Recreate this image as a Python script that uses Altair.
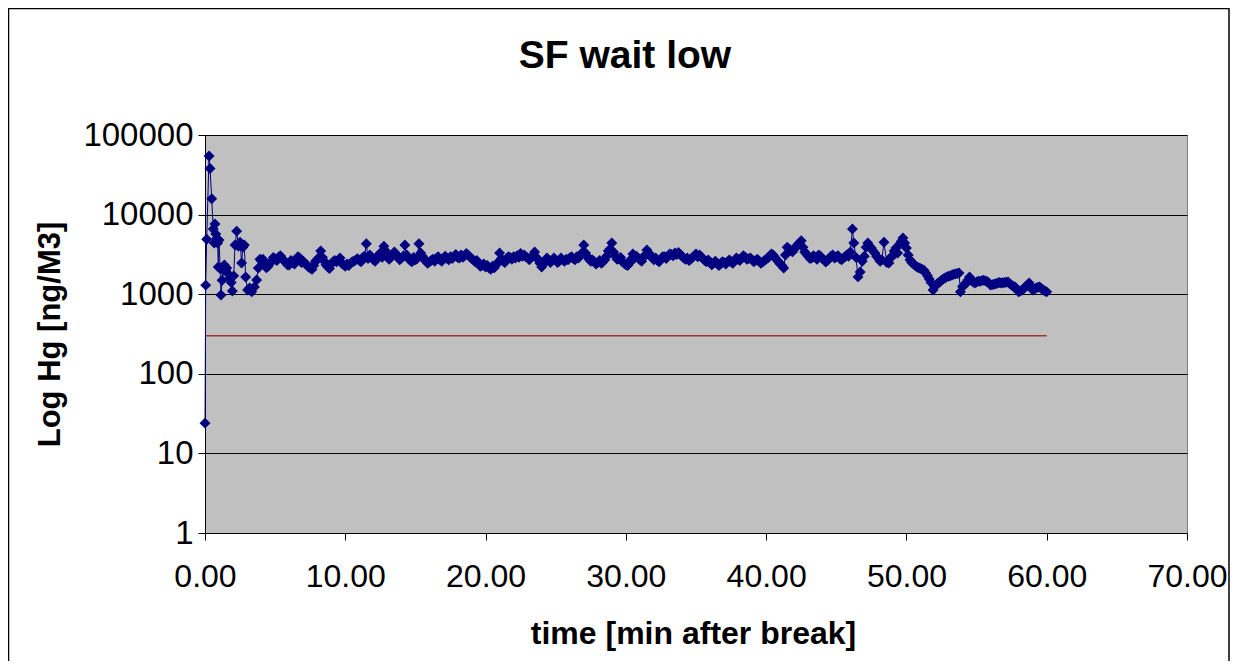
import altair as alt
import pandas as pd

# ---- data ----
time_min = [
    0.00, 0.05, 0.12, 0.29, 0.36, 0.48, 0.59, 0.66, 0.71, 0.77, 0.83, 0.90, 0.95, 1.00,
    1.08, 1.14, 1.22, 1.30, 1.38, 1.47, 1.55, 1.66, 1.78, 1.87, 1.95, 2.05, 2.14, 2.26,
    2.38, 2.50, 2.61, 2.70, 2.80, 2.90, 3.04, 3.18, 3.33, 3.52, 3.68, 3.80, 3.92, 4.04,
    4.25, 4.50, 4.75, 5.00, 5.25, 5.50, 5.75, 6.00, 6.25, 6.50, 6.75, 7.00, 7.25, 7.50,
    7.75, 8.00, 8.25, 8.50, 8.75, 9.00, 9.25, 9.50, 9.75, 10.00,
    10.25, 10.50, 10.75, 11.00, 11.25, 11.50, 11.75, 12.00, 12.25, 12.50, 12.75, 13.00,
    13.25, 13.50, 13.75, 14.00, 14.25, 14.50, 14.75, 15.00, 15.25, 15.50, 15.75, 16.00,
    16.25, 16.50, 16.75, 17.00, 17.25, 17.50, 17.75, 18.00, 18.25, 18.50, 18.75, 19.00,
    19.25, 19.50, 19.75, 20.00, 20.25, 20.50, 20.75, 21.00, 21.25, 21.50, 21.75, 22.00,
    22.25, 22.50, 22.75, 23.00, 23.25, 23.50, 23.75, 24.00, 24.25, 24.50, 24.75, 25.00,
    25.25, 25.50, 25.75, 26.00, 26.25, 26.50, 26.75, 27.00, 27.25, 27.50, 27.75, 28.00,
    28.25, 28.50, 28.75, 29.00, 29.25, 29.50, 29.75, 30.00, 30.25, 30.50, 30.75, 31.00,
    31.25, 31.50, 31.75, 32.00, 32.25, 32.50, 32.75, 33.00, 33.25, 33.50, 33.75, 34.00,
    34.25, 34.50, 34.75, 35.00, 35.25, 35.50, 35.75, 36.00, 36.25, 36.50, 36.75, 37.00,
    37.25, 37.50, 37.75, 38.00, 38.25, 38.50, 38.75, 39.00, 39.25, 39.50, 39.75, 40.00,
    40.25, 40.50, 40.75, 41.00, 41.25, 41.50, 41.75, 42.00, 42.25, 42.50, 42.75, 43.00,
    43.25, 43.50, 43.75, 44.00, 44.25, 44.50, 44.75, 45.00, 45.25, 45.50, 45.75, 46.00,
    46.15, 46.25, 46.40, 46.55, 46.70, 47.00, 47.25, 47.50, 47.75, 48.00, 48.25, 48.40,
    48.60, 48.75, 49.00, 49.25, 49.50, 49.75, 50.00, 50.25, 50.50, 50.75, 51.00, 51.25,
    51.50, 51.75, 51.90, 52.00,
    52.25, 52.50, 52.75, 53.00, 53.25, 53.50, 53.75, 53.85, 54.00, 54.25, 54.50, 54.75,
    55.00, 55.25, 55.50, 55.75, 56.00, 56.25, 56.50, 56.75, 57.00, 57.25, 57.50, 57.75,
    58.00, 58.25, 58.50, 58.75, 59.00, 59.25, 59.50, 59.75, 60.00,
]

hg_ng_m3 = [
    24, 1300, 4900, 54500, 38000, 15800, 6600, 4400, 7600, 5700, 5000, 4400, 2200, 4800,
    2100, 980, 1500, 2000, 2330, 2000, 2130, 1800, 1600, 1400, 1100, 1700, 4150, 6200,
    4000, 4500, 2470, 3900, 4150, 1640, 1130, 1200, 1070, 1230, 1510, 2130, 2750, 2600,
    2450, 2250, 2600, 2750, 2930, 2800, 2500, 2330, 2500, 2700, 2850, 2600, 2350, 2130,
    2300, 2700, 3500, 2600, 2200, 2400, 2650, 2700, 2450, 2250,
    2300, 2550, 2700, 2650, 2900, 4300, 3100, 2700, 2900, 3300, 4000, 3200,
    2900, 3400, 3000, 2850, 4150, 2800, 2550, 2700, 4300, 3000, 2600, 2550,
    2750, 2850, 2700, 2850, 2800, 2950, 3000, 2900, 3100, 3050, 3100, 2800,
    2550, 2400, 2300, 2200, 2130, 2250, 2350, 3300, 2600, 2750, 2900, 2950,
    3050, 3250, 3100, 2850, 2900, 3390, 2700, 2200, 2600, 2700, 2650, 2700,
    2600, 2700, 2750, 2850, 2800, 2950, 3100, 4150, 3000, 2600, 2550, 2500,
    2450, 2700, 3500, 4400, 3000, 2800, 2550, 2350, 2450, 3200, 3000, 2700,
    2900, 3590, 3100, 2700, 2650, 2750, 2950, 3000, 3150, 3300, 3350, 3000,
    2750, 2650, 2900, 3200, 3100, 2800, 2550, 2500, 2450, 2470, 2400, 2500,
    2550, 2540, 2650, 2750, 2850, 2930, 2800, 2700, 2650, 2600, 2540, 2750,
    3000, 3100, 2700, 2400, 2130, 3900, 3600, 3700, 4200, 4700, 3400, 3000,
    2850, 2900, 3100, 2800, 2540, 2800, 3100, 2950, 2800, 2850, 3100, 3390,
    6600, 4400, 2900, 1650, 1900, 3000, 4400, 3800, 3300, 2800, 2700, 4500,
    2500, 2470, 3000, 3800, 4200, 5100, 3800, 2700, 2400, 2200, 2100, 2000,
    1700, 1400, 1130, 1250,
    1380, 1500, 1600, 1680, 1740, 1800, 1850, 1070, 1250, 1380, 1640, 1420,
    1420, 1450, 1500, 1450, 1300, 1330, 1380, 1380, 1400, 1420, 1300, 1230,
    1070, 1130, 1250, 1380, 1130, 1200, 1230, 1130, 1070,
]

# in-between samples (the trace is sampled densely, the band jitters)
mid_time = [
    4.125, 4.375, 4.625, 4.875, 5.125, 5.375, 5.625, 5.875, 6.125, 6.375, 6.625, 6.875,
    7.125, 7.375, 7.625, 7.875, 8.125, 8.375, 8.625, 8.875, 9.125, 9.375, 9.625, 9.875,
    10.125, 10.375, 10.625, 10.875, 11.125, 11.375, 11.625, 11.875, 12.125, 12.375, 12.625, 12.875,
    13.125, 13.375, 13.625, 13.875, 14.125, 14.375, 14.625, 14.875, 15.125, 15.375, 15.625, 15.875,
    16.125, 16.375, 16.625, 16.875, 17.125, 17.375, 17.625, 17.875, 18.125, 18.375, 18.625, 18.875,
    19.125, 19.375, 19.625, 19.875, 20.125, 20.375, 20.625, 20.875, 21.125, 21.375, 21.625, 21.875,
    22.125, 22.375, 22.625, 22.875, 23.125, 23.375, 23.625, 23.875, 24.125, 24.375, 24.625, 24.875,
    25.125, 25.375, 25.625, 25.875, 26.125, 26.375, 26.625, 26.875, 27.125, 27.375, 27.625, 27.875,
    28.125, 28.375, 28.625, 28.875, 29.125, 29.375, 29.625, 29.875, 30.125, 30.375, 30.625, 30.875,
    31.125, 31.375, 31.625, 31.875, 32.125, 32.375, 32.625, 32.875, 33.125, 33.375, 33.625, 33.875,
    34.125, 34.375, 34.625, 34.875, 35.125, 35.375, 35.625, 35.875, 36.125, 36.375, 36.625, 36.875,
    37.125, 37.375, 37.625, 37.875, 38.125, 38.375, 38.625, 38.875, 39.125, 39.375, 39.625, 39.875,
    40.125, 40.375, 40.625, 40.875, 41.125, 41.375, 41.625, 41.875, 42.125, 42.375, 42.625, 42.875,
    43.125, 43.375, 43.625, 43.875, 44.125, 44.375, 44.625, 44.875, 45.125, 45.375, 45.625, 45.875,
    46.85, 47.125, 47.375, 47.625, 47.875, 48.125, 48.875, 49.125, 49.375, 49.625, 49.875, 50.125,
    50.375, 50.625, 50.875, 51.125, 51.375, 51.625,
    52.125, 52.375, 52.625, 52.875, 53.125, 53.375, 53.625, 54.125, 54.375, 54.625, 54.875, 55.125,
    55.375, 55.625, 55.875, 56.125, 56.375, 56.625, 56.875, 57.125, 57.375, 57.625, 57.875, 58.125,
    58.375, 58.625, 58.875, 59.125, 59.375, 59.625, 59.875,
]

mid_hg = [
    2750, 2150, 2450, 2900, 2650, 3050, 2650, 2350, 2650, 2400, 2950, 2500,
    2450, 2200, 2050, 2600, 2900, 2900, 2350, 2100, 2550, 2550, 2850, 2350,
    2400, 2450, 2600, 2800, 2550, 3000, 2800, 2900, 2600, 3100, 2900, 3500,
    2750, 3100, 3150, 2700, 3000, 3100, 2650, 2900, 2800, 3300, 2750, 2450,
    2650, 2600, 2950, 2600, 3000, 2700, 2800, 3150, 2850, 2900, 3250, 2950,
    2700, 2650, 2250, 2400, 2300, 2050, 2150, 2500, 2800, 2500, 2950, 2750,
    2850, 2900, 3000, 2950, 2700, 3050, 2900, 2450, 2400, 2850, 2500, 2850,
    2500, 2850, 2600, 2700, 2950, 2700, 2850, 3300, 3300, 2750, 2700, 2400,
    2650, 2550, 3000, 3700, 3400, 2750, 2900, 2450, 2300, 2750, 2850, 2850,
    2600, 3100, 3300, 2850, 2850, 2550, 2950, 2800, 3200, 3050, 3150, 3150,
    2850, 2850, 2750, 3050, 2950, 2950, 2650, 2700, 2350, 2600, 2300, 2550,
    2400, 2700, 2450, 2850, 2650, 3050, 2750, 2850, 2550, 2750, 2450, 2650,
    2850, 3200, 2900, 2550, 2300, 3100, 3700, 3400, 3900, 4400, 3900, 3200,
    2800, 3050, 2750, 3000, 2700, 2650, 3000, 2850, 3050, 2700, 2950, 3000,
    2600, 3900, 4000, 3500, 3000, 2600, 2900, 3500, 3300, 4600, 4400, 3100,
    2500, 2300, 2150, 2050, 1850, 1550,
    1300, 1420, 1550, 1650, 1700, 1780, 1820, 1300, 1500, 1500, 1380, 1460,
    1480, 1470, 1380, 1320, 1350, 1400, 1390, 1410, 1350, 1250, 1150, 1100,
    1180, 1320, 1250, 1150, 1220, 1180, 1100,
]

limit_t = [0, 60]
limit_v = [300, 300]

x_ticks = [0, 10, 20, 30, 40, 50, 60, 70]
y_ticks = [1, 10, 100, 1000, 10000, 100000]

chart_title = "SF wait low"
x_title = "time [min after break]"
y_title = "Log Hg [ng/M3]"

assert len(time_min) == len(hg_ng_m3)
assert len(mid_time) == len(mid_hg)

FONT = "Liberation Sans"
W, H = 982, 398

df = pd.concat(
    [pd.DataFrame({"t": time_min, "hg": hg_ng_m3}),
     pd.DataFrame({"t": mid_time, "hg": mid_hg})],
    ignore_index=True,
).sort_values("t").reset_index(drop=True)
df_lim = pd.DataFrame({"t": limit_t, "hg": limit_v})
one = pd.DataFrame({"a": [0]})

x_enc = alt.X(
    "t:Q",
    scale=alt.Scale(domain=[0, 70], nice=False, zero=False),
    axis=alt.Axis(
        values=x_ticks, format=".2f", grid=False,
        domainColor="black", domainWidth=1, tickColor="black", tickSize=7,
        labelFont=FONT, labelFontSize=32, labelColor="black", labelPadding=21,
        labelFlush=False, labelOverlap=False,
        title=x_title, titleFont=FONT, titleFontSize=32, titleFontWeight="bold",
        titleColor="black", titleX=W / 2 - 3, titleY=110, titleAlign="center",
        titleBaseline="alphabetic",
    ),
)
y_enc = alt.Y(
    "hg:Q",
    scale=alt.Scale(type="log", domain=[1, 100000], nice=False),
    axis=alt.Axis(
        values=y_ticks, format="d", grid=True, gridColor="black", gridWidth=1,
        domainColor="black", domainWidth=1, tickColor="black", tickSize=7,
        labelFont=FONT, labelFontSize=33, labelColor="black", labelPadding=5,
        labelFlush=False, labelOverlap=False,
        title=y_title, titleFont=FONT, titleFontSize=31, titleFontWeight="bold",
        titleColor="black", titleAngle=270, titleX=-146, titleY=H / 2,
        titleAlign="center", titleBaseline="alphabetic",
    ),
)

line = alt.Chart(df).mark_line(color="#000080", strokeWidth=1).encode(x=x_enc, y=y_enc)
pts = alt.Chart(df).mark_point(
    shape="diamond", filled=True, color="#000080", size=120, opacity=1
).encode(x="t:Q", y="hg:Q")
limit = alt.Chart(df_lim).mark_line(color="#a03535", strokeWidth=1.5).encode(x="t:Q", y="hg:Q")

title_txt = alt.Chart(one).mark_text(
    font=FONT, fontSize=39, fontWeight="bold", color="black",
    align="center", baseline="alphabetic",
).encode(x=alt.value(420), y=alt.value(-67), text=alt.value(chart_title))

frame = alt.Chart(one).mark_rect(
    fillOpacity=0, stroke="black", strokeWidth=1.5
).encode(
    x=alt.value(-196.5), x2=alt.value(1024), y=alt.value(-126.5), y2=alt.value(600)
)

chart = (
    alt.layer(limit, line, pts, title_txt, frame)
    .properties(
        width=W, height=H,
        autosize=alt.AutoSizeParams(type="none"),
        padding={"left": 197, "top": 127, "right": 43, "bottom": 128},
        background="white",
    )
    .configure_view(fill="#C0C0C0", stroke="#808080", strokeWidth=1)
)

chart.save("out.html", embed_options={"renderer": "svg", "actions": False})
